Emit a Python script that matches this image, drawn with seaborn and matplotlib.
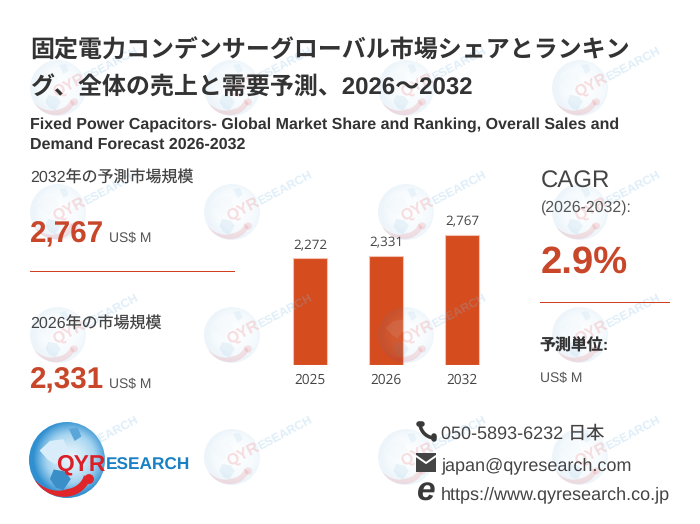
import numpy as np
import pandas as pd
import matplotlib.pyplot as plt
from matplotlib.colors import LinearSegmentedColormap
from matplotlib.patches import Circle, Polygon, Rectangle
import seaborn as sns

years = ["2025", "2026", "2032"]
market_size = [2272, 2331, 2767]
title_lines = ["固定電力コンデンサーグローバル市場シェアとランキン", "グ、全体の売上と需要予測、2026～2032"]
subtitle_lines = ["Fixed Power Capacitors- Global Market Share and Ranking, Overall Sales and",
                  "Demand Forecast 2026-2032"]
cagr = "2.9%"
unit = "US$ M"
contacts = ["050-5893-6232 日本", "japan@qyresearch.com", "https://www.qyresearch.co.jp"]

W, H = 700, 524
DARK = "#333333"
GREY = "#555555"
RED = "#c8472a"
BAR = "#d54c1e"
LINE = "#d0401e"
CMAP = LinearSegmentedColormap.from_list("globe", ["#e4f3fb", "#a5d4f0", "#2f8fd0"])

sns.set_theme(style="white")
plt.rcParams["font.family"] = ["Liberation Sans", "Noto Sans CJK JP"]
plt.rcParams["text.hinting"] = "none"

fig = plt.figure(figsize=(7, 5.24), dpi=100, facecolor="white")


def px_axes(zorder):
    ax = fig.add_axes([0, 0, 1, 1], zorder=zorder)
    ax.set_xlim(0, W)
    ax.set_ylim(H, 0)
    ax.axis("off")
    ax.patch.set_alpha(0)
    return ax


# bars, baseline at y=365
ax_bar = fig.add_axes([272 / W, 1 - 365 / H, 228 / W, 165 / H], zorder=1)
df = pd.DataFrame({"year": years, "size": market_size})
sns.barplot(data=df, x="year", y="size", color=BAR, saturation=1, width=0.46,
            edgecolor="#f3c3b3", linewidth=0.8, ax=ax_bar)
ax_bar.set_xlim(-0.5, 2.5)
ax_bar.set_ylim(0, 3515)
ax_bar.set(xlabel=None, ylabel=None, yticks=[])
ax_bar.tick_params(axis="x", length=0, pad=6, labelsize=9.8, labelcolor="#444444")
for lab in ax_bar.get_xticklabels():
    lab.set_family(["Open Sans"])
ax_bar.bar_label(ax_bar.containers[0], labels=[f"{v:,}" for v in market_size],
                 padding=4.5, fontsize=9.6, color="#444444", family=["Open Sans"])
sns.despine(ax=ax_bar, left=True, bottom=True)
ax_bar.patch.set_alpha(0)

ov = px_axes(2)


def globe(cx, cy, r, alpha, red_alpha, z):
    # radial shade, land, red swoosh
    g = np.linspace(-1, 1, 80)
    xx, yy = np.meshgrid(g, g)
    d = np.clip(np.hypot(xx - 0.1, yy + 0.05), 0, 1) ** 1.6
    im = ov.imshow(d, extent=(cx - r, cx + r, cy + r, cy - r), cmap=CMAP, vmin=0, vmax=1,
                   alpha=alpha, zorder=z, aspect="auto", interpolation="bilinear")
    im.set_clip_path(Circle((cx, cy), r, transform=ov.transData))
    north = [(-.72, -.25), (-.45, -.5), (-.1, -.55), (.05, -.25), (-.15, -.1), (-.3, .12), (-.5, 0)]
    south = [(-.35, .25), (-.05, .3), (.1, .5), (-.1, .8), (-.3, .72), (-.45, .5)]
    top = [(.05, -.82), (.28, -.85), (.38, -.62), (.2, -.5)]
    for pts, col in ((north, "#d8edf9"), (south, "#3b8fc9"), (top, "#5aa6d8")):
        ov.add_patch(Polygon([(cx + a * r, cy + b * r) for a, b in pts], closed=True, fc=col,
                             ec="none", alpha=alpha, zorder=z + 0.1))
    u = np.linspace(0, 1, 60)
    t = np.radians(150 - 108 * u)
    ro = r * (1 - 0.2 * u ** 3)
    ri = ro - 0.2 * r * np.minimum(1, u * 1.8)
    outer = np.c_[cx + ro * np.cos(t), cy + ro * np.sin(t)]
    inner = np.c_[cx + ri * np.cos(t), cy + ri * np.sin(t)][::-1]
    ov.add_patch(Polygon(np.r_[outer, inner], closed=True, fc="#e0262b", ec="none",
                         alpha=red_alpha, zorder=z + 0.2))
    ov.add_patch(Circle((cx + 0.58 * r, cy + 0.5 * r), 0.13 * r, fc="#e0262b", ec="none",
                        alpha=red_alpha, zorder=z + 0.2))


# faint watermark grid, lies over the bars too
for wy in (88, 212, 335, 457):
    for wx in (58, 232, 406, 580):
        globe(wx, wy, 28, 0.09, 0.12, 3)
        ov.text(wx - 4, wy + 6, "QYR", color="#e0262b", alpha=0.15, fontsize=11.5, weight="bold",
                rotation=28, rotation_mode="anchor", va="center", zorder=4)
        ov.text(wx + 27, wy - 10, "ESEARCH", color="#7fbde6", alpha=0.25, fontsize=8.8, weight="bold",
                rotation=28, rotation_mode="anchor", va="center", zorder=4)


def put(x, y, s, size, color=DARK, weight="normal"):
    ov.text(x, y, s, fontsize=size, color=color, weight=weight, va="baseline", ha="left", zorder=10)


put(30, 58, title_lines[0], 17.28, weight="bold")
put(30, 94, title_lines[1], 17.28, weight="bold")
put(30, 129, subtitle_lines[0], 11.5, weight="bold")
put(30, 149, subtitle_lines[1], 11.5, weight="bold")

put(30, 183, "2032年の予測市場規模", 11.5, "#444444")
put(30, 242, f"{market_size[2]:,}", 21.3, RED, "bold")
put(109, 242, unit, 10, GREY)
ov.add_patch(Rectangle((30, 271), 205, 1, fc=LINE, ec="none", zorder=10))
put(30, 329, "2026年の市場規模", 11.5, "#444444")
put(30, 388, f"{market_size[1]:,}", 21.3, RED, "bold")
put(109, 388, unit, 10, GREY)

put(540.5, 188, "CAGR", 17.3, "#444444")
put(540.5, 212, "(2026-2032):", 11.4, GREY)
put(540.5, 273, cagr, 27.5, RED, "bold")
ov.add_patch(Rectangle((540, 302), 130, 1, fc=LINE, ec="none", zorder=10))
put(539.5, 350, "予測単位:", 11.5, DARK, "bold")
put(540.5, 382, unit, 10, GREY)

for y, s in zip((439, 470, 499), contacts):
    put(441, y, s, 13, "#444444")

# contact icons
ICON = "#3a3a3a"
t = np.radians(np.linspace(98, 172, 20))
ov.plot(435 + 15 * np.cos(t), 423 + 15 * np.sin(t), color=ICON, lw=2.6, zorder=10)
ov.plot([418.5, 421.5], [424, 424], color=ICON, lw=4, solid_capstyle="round", zorder=10)
ov.plot([433.5, 433.5], [435.5, 438.5], color=ICON, lw=4, solid_capstyle="round", zorder=10)
ov.add_patch(Rectangle((416, 453), 20, 19, fc="#444444", ec="none", zorder=10))
ov.plot([416, 426, 436], [456, 463, 456], color="white", lw=1.4, zorder=11)
ov.text(426, 500.5, "e", fontsize=24, style="italic", weight="bold", color=ICON, ha="center",
        va="baseline", zorder=10)

# logo
globe(67, 460, 38, 1, 1, 6)
ov.text(56, 470, "QYR", color="#dc1f26", fontsize=16.4, weight="bold", va="baseline", zorder=8)
ov.text(106, 470, "ESEARCH", color="#1a80c4", fontsize=12.4, weight="bold", va="baseline", zorder=8)

ov.set_xlim(0, W)
ov.set_ylim(H, 0)

fig.savefig("out.png", dpi=100)
